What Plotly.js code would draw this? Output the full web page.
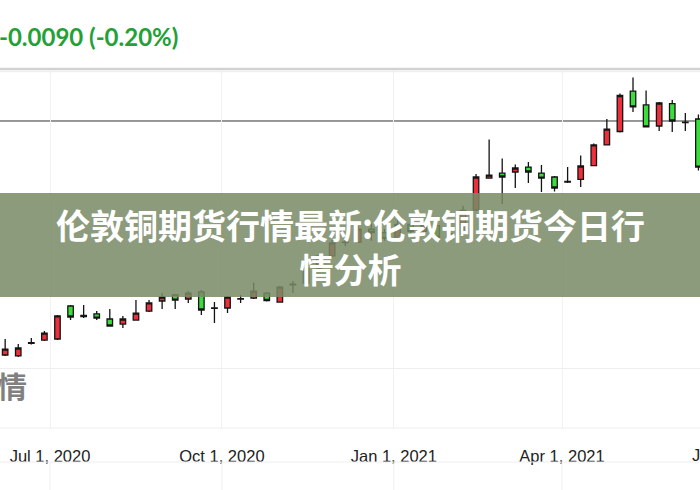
<!DOCTYPE html>
<html>
<head>
<meta charset="utf-8">
<script src="https://cdn.plot.ly/plotly-3.0.1.min.js"></script>
<style>
  html, body { margin: 0; padding: 0; background: #fff; }
  #chart { width: 700px; height: 490px; }
</style>
</head>
<body>
<div id="chart"></div>
<script>
// Weekly COMEX copper candles (USD/lb)
const weeks = [
  '2020-06-07','2020-06-14','2020-06-21','2020-06-28','2020-07-05','2020-07-12','2020-07-19','2020-07-26',
  '2020-08-02','2020-08-09','2020-08-16','2020-08-23','2020-08-30','2020-09-06','2020-09-13','2020-09-20',
  '2020-09-27','2020-10-04','2020-10-11','2020-10-18','2020-10-25','2020-11-01','2020-11-08','2020-11-15',
  '2020-11-22','2020-11-29','2020-12-06','2020-12-13','2020-12-20','2020-12-27','2021-01-03','2021-01-10',
  '2021-01-17','2021-01-24','2021-01-31','2021-02-07','2021-02-14','2021-02-21','2021-02-28','2021-03-07',
  '2021-03-14','2021-03-21','2021-03-28','2021-04-04','2021-04-11','2021-04-18','2021-04-25','2021-05-02',
  '2021-05-09','2021-05-16','2021-05-23','2021-05-30','2021-06-06','2021-06-13'
];
const openP = [
  2.523,2.515,2.622,2.651,2.660,2.942,2.861,2.874,
  2.831,2.788,2.822,2.899,2.985,3.036,3.002,3.062,
  2.925,2.925,3.002,3.010,3.053,2.976,3.122,3.139,
  3.267,3.370,3.489,3.489,3.600,3.570,3.520,3.640,
  3.580,3.630,3.530,3.560,3.763,4.036,4.079,4.088,
  4.130,4.079,4.045,4.002,4.024,4.143,4.319,4.434,
  4.780,4.661,4.481,4.673,4.515,4.541
];
const highP = [
  2.660,2.617,2.668,2.728,2.865,2.951,2.951,2.899,
  2.916,2.857,2.993,2.993,3.053,3.045,3.070,3.079,
  2.976,3.028,3.036,3.143,3.062,3.113,3.156,3.284,
  3.387,3.506,3.515,3.626,3.650,3.600,3.720,3.690,
  3.660,3.660,3.600,3.800,4.071,4.366,4.203,4.152,
  4.173,4.148,4.054,4.130,4.229,4.331,4.541,4.759,
  4.896,4.785,4.686,4.703,4.592,4.579
];
const lowP = [
  2.515,2.506,2.613,2.643,2.651,2.822,2.839,2.822,
  2.767,2.754,2.818,2.891,2.916,2.916,2.968,2.865,
  2.797,2.882,2.968,3.002,2.981,2.972,3.053,3.130,
  3.250,3.361,3.455,3.481,3.500,3.500,3.500,3.560,
  3.550,3.500,3.500,3.550,3.754,4.032,3.814,3.951,
  3.994,3.917,3.921,3.994,3.960,4.139,4.314,4.425,
  4.601,4.468,4.438,4.430,4.438,4.101
];
const closeP = [
  2.574,2.583,2.628,2.711,2.857,2.848,2.852,2.839,
  2.771,2.831,2.882,2.968,3.019,2.993,3.053,2.908,
  2.921,3.019,3.006,3.070,2.989,3.104,3.130,3.267,
  3.370,3.481,3.485,3.600,3.570,3.520,3.640,3.580,
  3.630,3.530,3.560,3.760,4.045,4.062,4.045,4.122,
  4.088,4.036,3.951,4.007,4.139,4.319,4.455,4.742,
  4.644,4.473,4.678,4.524,4.511,4.130
];
const refLine = 4.524;          // horizontal price line
const gridPrice = [2.412];      // visible horizontal grid level
const tickDates = ['2020-07-01','2020-10-01','2021-01-01','2021-04-01'];
const tickLabels = ['Jul 1, 2020','Oct 1, 2020','Jan 1, 2021','Apr 1, 2021'];
const nextTickDate = '2021-07-01';
const nextTickLabel = 'Jul 1, 2021';
const headerText = '-0.0090 (-0.20%)';
const bannerText = '伦敦铜期货行情最新:伦敦铜期货今日行<br>情分析';
const watermarkText = '情';

// layout geometry (pixels)
const W = 700, H = 490, TOP = 70, BOTTOM = 428;
const PH = BOTTOM - TOP;
const py = (p) => (BOTTOM - p) / PH;   // pixel y -> paper y
const xStart = '2020-06-04 05:46', xEnd = '2021-06-13 20:24';
const msStart = new Date('2020-06-04T05:46:00Z').getTime();
const msEnd = new Date('2021-06-13T20:24:00Z').getTime();
const dateToPaper = (d) => (new Date(d + 'T00:00:00Z').getTime() - msStart) / (msEnd - msStart);

const trace = {
  type: 'candlestick',
  x: weeks, open: openP, high: highP, low: lowP, close: closeP,
  increasing: { fillcolor: '#ec2f3a', line: { color: '#141414', width: 1.3 } },
  decreasing: { fillcolor: '#3ddc3d', line: { color: '#141414', width: 1.3 } },
  whiskerwidth: 0,
  hoverinfo: 'x+y'
};

const shapes = [
  // top border
  { type: 'line', xref: 'paper', yref: 'paper', x0: 0, x1: 1, y0: py(69), y1: py(69), line: { color: '#d2d2d2', width: 2.5 } },
  { type: 'line', xref: 'paper', yref: 'paper', x0: 0, x1: 1, y0: py(71.5), y1: py(71.5), line: { color: '#efefef', width: 1.5 } },
  // price reference line
  { type: 'line', xref: 'paper', yref: 'y', x0: 0, x1: 1, y0: refLine, y1: refLine, line: { color: '#333', width: 1 }, layer: 'below' },
  // axis band borders
  { type: 'line', xref: 'paper', yref: 'paper', x0: 0, x1: 1, y0: py(428), y1: py(428), line: { color: '#eeeeee', width: 1 } },
  { type: 'line', xref: 'paper', yref: 'paper', x0: 0, x1: 1, y0: py(462), y1: py(462), line: { color: '#eeeeee', width: 1 } },
  // banner
  { type: 'rect', xref: 'paper', yref: 'paper', x0: -0.01, x1: 1.01, y0: py(297), y1: py(193), fillcolor: 'rgba(122,139,104,0.86)', line: { width: 0 }, layer: 'above' }
];
tickDates.concat([nextTickDate]).forEach(d => {
  shapes.push({ type: 'line', xref: 'paper', yref: 'paper', x0: dateToPaper(d), x1: dateToPaper(d), y0: py(463), y1: py(490), line: { color: '#f0f0f0', width: 1 } });
});

const annotations = [
  { xref: 'paper', yref: 'paper', x: 0, xshift: -3, y: py(36), xanchor: 'left', yanchor: 'middle', showarrow: false,
    text: '<b>' + headerText + '</b>', font: { family: 'Lato, "Open Sans", sans-serif', size: 24, color: '#23a136' } },
  { xref: 'paper', yref: 'paper', x: 0.5, y: py(246), xanchor: 'center', yanchor: 'middle', showarrow: false,
    text: '<b>' + bannerText + '</b>', font: { family: '"Noto Sans CJK SC", sans-serif', size: 34, color: '#ffffff' } },
  { xref: 'paper', yref: 'paper', x: 0, xshift: -5, y: py(385), xanchor: 'left', yanchor: 'middle', showarrow: false,
    text: '<b>' + watermarkText + '</b>', font: { family: '"Noto Sans CJK SC", sans-serif', size: 30, color: 'rgba(105,105,105,0.85)' } },
  { xref: 'paper', yref: 'paper', x: dateToPaper(nextTickDate), y: py(455), xanchor: 'center', yanchor: 'middle', showarrow: false,
    text: nextTickLabel, font: { family: '"Liberation Sans", Arial, sans-serif', size: 16.5, color: '#222' } }
];

const layout = {
  width: W, height: H,
  margin: { l: 0, r: 0, t: TOP, b: H - BOTTOM, pad: 0 },
  paper_bgcolor: '#ffffff', plot_bgcolor: '#ffffff',
  showlegend: false,
  boxgap: 0.4,
  xaxis: {
    type: 'date', range: [xStart, xEnd],
    rangeslider: { visible: false },
    tickvals: tickDates, ticktext: tickLabels,
    ticks: 'outside', ticklen: 13, tickcolor: 'rgba(0,0,0,0)',
    tickfont: { family: '"Liberation Sans", Arial, sans-serif', size: 16.5, color: '#222' },
    showgrid: true, gridcolor: '#f1f1f1', gridwidth: 1,
    zeroline: false, showline: false, fixedrange: true
  },
  yaxis: {
    range: [1.899, 4.960],
    tickvals: gridPrice, showticklabels: false,
    showgrid: true, gridcolor: '#eeeeee', gridwidth: 1,
    zeroline: false, showline: false, fixedrange: true
  },
  shapes: shapes,
  annotations: annotations
};

Plotly.newPlot('chart', [trace], layout, { displayModeBar: false, staticPlot: true });
</script>
</body>
</html>
